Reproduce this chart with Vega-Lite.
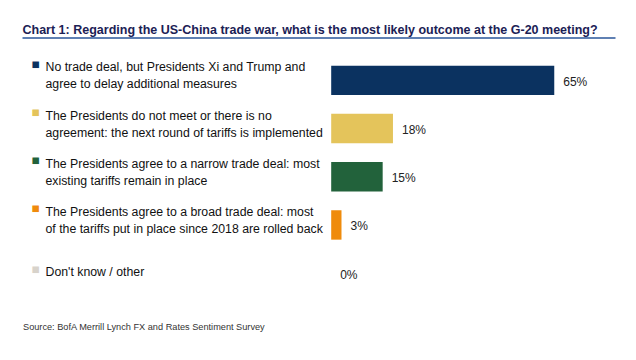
{
  "$schema": "https://vega.github.io/schema/vega-lite/v6.json",
  "width": 593,
  "height": 241.5,
  "autosize": "none",
  "padding": {"left": 22, "top": 56, "right": 21, "bottom": 62.5},
  "background": "white",
  "config": {"view": {"stroke": null}},
  "title": {
    "text": "Source:  BofA Merrill Lynch FX and Rates Sentiment Survey",
    "orient": "bottom",
    "anchor": "start",
    "frame": "group",
    "dx": 1,
    "offset": 25,
    "font": "Liberation Sans",
    "fontSize": 9.2,
    "fontWeight": "normal",
    "color": "#333333"
  },
  "data": {
    "values": [
      {"outcome": "No trade deal, but Presidents Xi and Trump and\nagree to delay additional measures", "share": 0.65},
      {"outcome": "The Presidents do not meet or there is no\nagreement: the next round of tariffs is implemented", "share": 0.18},
      {"outcome": "The Presidents agree to a narrow trade deal: most\nexisting tariffs remain in place", "share": 0.15},
      {"outcome": "The Presidents agree to a broad trade deal: most\nof the tariffs put in place since 2018 are rolled back", "share": 0.03},
      {"outcome": "Don't know / other", "share": 0.0}
    ]
  },
  "resolve": {"axis": {"y": "independent"}},
  "layer": [
    {
      "mark": {"type": "bar"},
      "encoding": {
        "y": {
          "field": "outcome",
          "type": "nominal",
          "sort": null,
          "scale": {"paddingInner": 0.39, "paddingOuter": 0.2},
          "axis": {
            "orient": "right",
            "domain": false,
            "ticks": false,
            "tickSize": 0,
            "grid": false,
            "title": null,
            "labelAlign": "left",
            "labelPadding": -584,
            "labelBaseline": "middle",
            "labelExpr": "'■'",
            "labelFont": "Liberation Sans",
            "labelFontSize": 13.5,
            "labelColor": {"expr": "scale('color', datum.value)"},
            "labelOffset": {"condition": {"test": "indexof(datum.value, '\\n') >= 0", "value": -15.5}, "value": -3.5},
            "labelLimit": 0,
            "labelOverlap": false
          }
        },
        "x": {
          "field": "share",
          "type": "quantitative",
          "scale": {"domain": [-0.901, 0.827], "nice": false, "zero": false},
          "axis": {
            "orient": "top",
            "offset": 18.5,
            "domain": true,
            "domainColor": "#5f80b3",
            "domainWidth": 2,
            "ticks": false,
            "labels": false,
            "grid": false,
            "title": "Chart 1: Regarding the US-China trade war, what is the most likely outcome at the G-20 meeting?",
            "titleAnchor": "start",
            "titleAlign": "left",
            "titleFont": "Liberation Sans",
            "titleFontSize": 12.5,
            "titleFontWeight": "bold",
            "titleColor": "#1b2155",
            "titlePadding": 1
          }
        },
        "color": {
          "field": "outcome",
          "type": "nominal",
          "sort": null,
          "scale": {"range": ["#0b3260", "#e4c45b", "#22623b", "#ef8b0c", "#d8d3cb"]},
          "legend": null
        }
      }
    },
    {
      "mark": {"type": "text", "align": "left", "baseline": "middle", "dx": 9, "dy": 1.5, "font": "Liberation Sans", "fontSize": 12, "color": "#222222"},
      "encoding": {
        "y": {
          "field": "outcome",
          "type": "nominal",
          "sort": null,
          "scale": {"paddingInner": 0.39, "paddingOuter": 0.2},
          "axis": {
            "orient": "left",
            "domain": false,
            "ticks": false,
            "tickSize": 0,
            "grid": false,
            "title": null,
            "labelAlign": "left",
            "labelPadding": -23,
            "labelBaseline": "middle",
            "labelLineHeight": 17,
            "labelOffset": {"condition": {"test": "indexof(datum.value, '\\n') >= 0", "value": -13}, "value": -1},
            "labelExpr": "split(datum.label, '\\n')",
            "labelFont": "Liberation Sans",
            "labelFontSize": 12.3,
            "labelColor": "#111111",
            "labelLimit": 0,
            "labelOverlap": false
          }
        },
        "x": {"field": "share", "type": "quantitative"},
        "text": {"field": "share", "type": "quantitative", "format": ".0%"}
      }
    }
  ]
}
